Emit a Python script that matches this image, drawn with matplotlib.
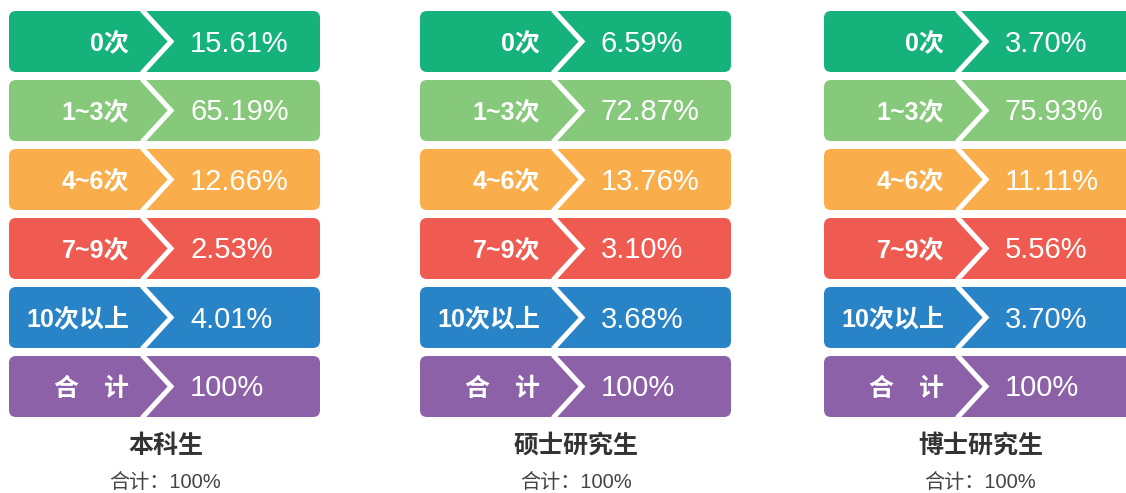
import matplotlib
matplotlib.use("Agg")
import matplotlib.pyplot as plt
from matplotlib.patches import FancyBboxPatch

plt.rcParams['font.family'] = ['Liberation Sans', 'Noto Sans CJK SC']

# data
categories = ["0次", "1~3次", "4~6次", "7~9次", "10次以上", "合　计"]
groups = ["本科生", "硕士研究生", "博士研究生"]
undergrad = ["15.61%", "65.19%", "12.66%", "2.53%", "4.01%", "100%"]
master = ["6.59%", "72.87%", "13.76%", "3.10%", "3.68%", "100%"]
doctor = ["3.70%", "75.93%", "11.11%", "5.56%", "3.70%", "100%"]
totals = ["合计：100%", "合计：100%", "合计：100%"]
colors = ["#15b27c", "#87c97a", "#faae4b", "#ef5b50", "#2984c7", "#8c61a8"]

W, H = 1126, 493
fig = plt.figure(figsize=(W / 100, H / 100), dpi=100)
ax = fig.add_axes([0, 0, 1, 1])
ax.set_xlim(0, W)
ax.set_ylim(H, 0)
ax.axis("off")

col_x = [9, 420, 824]
box_w = 311
box_h = 61
top = 11
pitch = 69

for g, vals in enumerate([undergrad, master, doctor]):
    x0 = col_x[g]
    for i, cat in enumerate(categories):
        y0 = top + i * pitch
        ax.add_patch(FancyBboxPatch((x0, y0), box_w, box_h,
                                    boxstyle="round,pad=0,rounding_size=7",
                                    fc=colors[i], ec="none"))
        # white chevron
        ax.plot([x0 + 133, x0 + 162, x0 + 133],
                [y0 - 1, y0 + box_h / 2, y0 + box_h + 1],
                color="white", lw=3.6, solid_joinstyle="miter",
                solid_capstyle="butt")
        ax.text(x0 + 120, y0 + box_h / 2 + 2.5, cat, color="white",
                fontsize=18, fontweight="bold", ha="right", va="center")
        ax.text(x0 + 181, y0 + box_h / 2 + 2, vals[i], color="white",
                fontsize=21, ha="left", va="center")
    cx = x0 + box_w / 2 + 1
    ax.text(cx, 446, groups[g], color="#333333", fontsize=18,
            fontweight="bold", ha="center", va="center")
    ax.text(cx, 483, totals[g], color="#444444", fontsize=14.5,
            ha="center", va="center")

fig.savefig("out.png", dpi=100)
